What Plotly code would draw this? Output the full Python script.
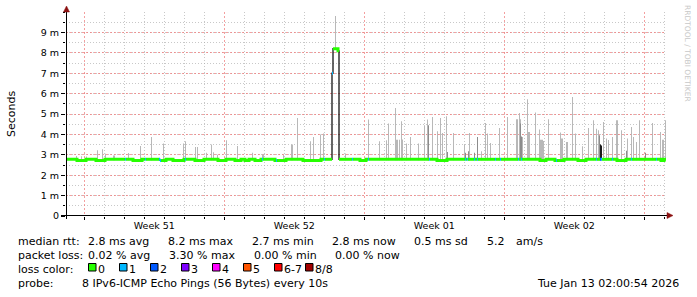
import plotly.graph_objects as go
import pandas as pd

# ---------------- data ----------------
END_TIME = "2026-01-13 02:00:54"
STEP_S = 4320          # seconds per RRD sample (30 days / 600 samples)
N_SAMPLES = 600

# median RTT (ms) as step changes: sample index where a new value starts
median_idx = [0, 11, 20, 30, 39, 67, 76, 94, 100, 107, 118, 129, 138, 152, 160, 169, 175, 179, 183,
              189, 195, 209, 220, 237, 255, 266, 267, 272, 273, 294, 300, 371, 381, 474, 480, 489,
              498, 512, 520, 551, 560, 595, 598]
median_val = [2.78, 2.72, 2.78, 2.72, 2.78, 2.72, 2.78, 2.72, 2.78, 2.72, 2.78, 2.72, 2.78, 2.72, 2.78,
              2.72, 2.78, 2.72, 2.78, 2.72, 2.78, 2.72, 2.78, 2.72, 2.78, 7.0, 8.2, 8.1, 2.78, 2.72,
              2.78, 2.72, 2.78, 2.72, 2.78, 2.72, 2.78, 2.72, 2.78, 2.72, 2.78, 2.72, 2.78]

# samples with packet loss (1 of 8 and 2 of 8 lost)
loss1_idx = [59, 79, 93, 94, 119, 196, 210, 258, 266, 286, 302, 363, 399, 401, 408, 411, 429, 434,
             452, 455, 490, 530, 535, 546, 565, 590]
loss2_idx = [534]

# smoke: max ping per sample (light grey)
smoke_idx = [10, 15, 20, 31, 36, 39, 47, 48, 62, 74, 85, 97, 117, 119, 129, 131, 140, 145, 147, 151,
             160, 171, 186, 196, 197, 217, 225, 226, 231, 244, 247, 254, 257, 269, 279, 302, 313, 320,
             322, 329, 330, 331, 333, 335, 336, 340, 344, 352, 358, 361, 362, 366, 371, 374, 376, 380,
             387, 398, 403, 411, 415, 419, 421, 424, 433, 441, 450, 451, 453, 454, 456, 461, 462, 463,
             469, 473, 474, 475, 476, 477, 482, 494, 495, 496, 500, 501, 506, 509, 516, 522, 527, 530,
             532, 537, 540, 542, 546, 550, 551, 555, 561, 565, 567, 570, 573, 586, 594, 596, 597, 599]
smoke_top = [2.94, 2.93, 2.92, 3.22, 3.27, 3.05, 2.97, 2.97, 3.09, 3.43, 3.87, 3.55, 3.55, 3.66, 3.38,
             3.38, 3.10, 3.50, 3.12, 3.00, 3.71, 3.43, 3.10, 3.02, 3.02, 2.99, 3.50, 3.50, 4.80, 3.66,
             3.87, 4.00, 4.04, 9.80, 3.06, 4.73, 3.66, 3.71, 4.53, 5.29, 3.74, 3.74, 3.74, 4.64, 3.75,
             3.55, 3.87, 3.55, 4.45, 4.73, 3.90, 4.85, 4.15, 4.80, 4.07, 4.89, 4.07, 3.51, 4.07, 3.87,
             3.17, 4.56, 4.04, 3.58, 4.31, 4.85, 4.74, 4.74, 5.05, 4.74, 3.87, 5.72, 4.12, 4.12, 5.07,
             4.24, 3.74, 3.74, 3.74, 3.68, 4.74, 4.09, 3.80, 3.80, 3.63, 3.63, 5.83, 4.04, 3.42, 4.31,
             4.69, 4.28, 4.20, 4.61, 3.80, 3.72, 3.87, 4.69, 4.69, 4.20, 3.80, 4.36, 3.87, 3.63, 4.69,
             4.56, 4.12, 3.74, 3.74, 4.69]
# inner smoke (darker grey)
smoke_dark_idx = [362, 381, 399, 402, 408, 411, 454, 455, 533, 560, 579]
smoke_dark_top = [4.45, 3.14, 3.10, 3.17, 3.10, 3.87, 4.53, 3.90, 3.96, 3.20, 3.10]
# innermost smoke (near black)
smoke_black_idx = [534, 535]
smoke_black_top = [3.50, 3.45]

y_tick_vals = [0, 1, 2, 3, 4, 5, 6, 7, 8, 9]
y_tick_text = ["0", "1 m", "2 m", "3 m", "4 m", "5 m", "6 m", "7 m", "8 m", "9 m"]

stats_rtt = [("median rtt:", 16.7), ("2.8 ms avg", 87.3), ("8.2 ms max", 166.7), ("2.7 ms min", 250.7),
             ("2.8 ms now", 331.0), ("0.5 ms sd", 413.3), ("5.2", 485.7), ("am/s", 515.3)]
stats_loss = [("packet loss:", 16.7), ("0.02 % avg", 87.3), ("3.30 % max", 168.3),
              ("0.00 % min", 253.3), ("0.00 % now", 334.3)]
loss_labels = ["0", "1", "2", "3", "4", "5", "6-7", "8/8"]
loss_colors = ["#26ff00", "#00b8ff", "#0059ff", "#7e00ff", "#ff00ff", "#ff5500", "#ff0000", "#a10000"]
probe_text = "8 IPv6-ICMP Echo Pings (56 Bytes) every 10s"
stamp_text = "Tue Jan 13 02:00:54 2026"

# ---------------- build series ----------------
end = pd.Timestamp(END_TIME)
start = end - pd.Timedelta(seconds=STEP_S * N_SAMPLES)
t = [start + pd.Timedelta(seconds=STEP_S * i) for i in range(N_SAMPLES + 1)]

med = []
for k, s0 in enumerate(median_idx):
    s1 = median_idx[k + 1] if k + 1 < len(median_idx) else N_SAMPLES
    med += [median_val[k]] * (s1 - s0)

lossset = set(loss1_idx) | set(loss2_idx)

FONT = "DejaVu Sans"
fig = go.Figure()

# smoke bars
def smoke_trace(idx, top, color):
    xs = [t[s] + pd.Timedelta(seconds=STEP_S / 2) for s in idx]
    base = [med[s] - 0.05 for s in idx]
    h = [top[i] - base[i] for i in range(len(idx))]
    return go.Bar(x=xs, y=h, base=base, width=STEP_S * 1000, marker=dict(color=color, line=dict(width=0)),
                  hoverinfo="skip", showlegend=False)

fig.add_trace(smoke_trace(smoke_idx, smoke_top, "#b8b8b8"))
fig.add_trace(smoke_trace(smoke_dark_idx, smoke_dark_top, "#8c8c8c"))
fig.add_trace(smoke_trace(smoke_black_idx, smoke_black_top, "#1a1a1a"))

# thin black median
fig.add_trace(go.Scatter(x=t, y=med + [med[-1]], mode="lines", line=dict(color="#000000", width=1.2, shape="hv"),
                         hoverinfo="skip", showlegend=False))

# green median (loss 0), broken at loss samples and large jumps
gx, gy = [], []
run = []
for s in range(N_SAMPLES):
    ok = s not in lossset
    if run and (not ok or abs(med[s] - med[run[-1]]) > 1.0):
        gx += [t[i] for i in run] + [t[run[-1] + 1], None]
        gy += [med[i] for i in run] + [med[run[-1]], None]
        run = []
    if ok:
        run.append(s)
if run:
    gx += [t[i] for i in run] + [t[run[-1] + 1]]
    gy += [med[i] for i in run] + [med[run[-1]]]
fig.add_trace(go.Scatter(x=gx, y=gy, mode="lines", line=dict(color=loss_colors[0], width=3, shape="hv"),
                         hoverinfo="skip", showlegend=False))

def loss_trace(idx, color):
    xs, ys = [], []
    for s in idx:
        xs += [t[s], t[s + 1], None]
        ys += [med[s], med[s], None]
    return go.Scatter(x=xs, y=ys, mode="lines", line=dict(color=color, width=3),
                      hoverinfo="skip", showlegend=False)

fig.add_trace(loss_trace(loss1_idx, loss_colors[1]))
fig.add_trace(loss_trace(loss2_idx, loss_colors[2]))

# ---------------- layout ----------------
W, H = 697, 297
PL, PT, PW, PH = 66, 12, 600, 204

def px(x):
    return (x - PL) / PW

def py(y):
    return (PT + PH - y) / PH

MAJ = "rgba(240,120,120,0.7)"
MIN = "rgba(170,170,170,0.65)"

fig.update_layout(
    width=W, height=H, margin=dict(l=PL, r=W - PL - PW, t=PT, b=H - PT - PH),
    paper_bgcolor="white", plot_bgcolor="white", barmode="overlay",
    font=dict(family=FONT, size=11, color="#000000"),
    showlegend=False,
)
fig.update_xaxes(
    type="date", range=[start, end], tick0="2025-12-15", dtick=7 * 86400000,
    ticklabelmode="period", tickformat="Week %V", ticklabelstandoff=-2,
    tickfont=dict(size=9.5, family=FONT, color="#000000"),
    showgrid=True, gridcolor=MAJ, griddash="2px,2px", gridwidth=1,
    ticks="outside", ticklen=3, tickcolor="#000000",
    showline=False, zeroline=False,
    minor=dict(dtick=86400000, showgrid=True, gridcolor=MIN, griddash="1px,2px",
               ticks="outside", ticklen=2, tickcolor="#000000"),
)
fig.update_yaxes(
    range=[0, 10], tickmode="array", tickvals=y_tick_vals, ticktext=y_tick_text,
    tickfont=dict(size=9.5, family=FONT, color="#000000"),
    showgrid=True, gridcolor=MAJ, griddash="2px,2px", gridwidth=1,
    ticks="outside", ticklen=4, tickcolor="#000000",
    showline=False, zeroline=False,
    minor=dict(dtick=0.5, showgrid=True, gridcolor=MIN, griddash="1px,2px",
               ticks="outside", ticklen=2, tickcolor="#000000"),
)

shapes = []
# axis lines with arrows
shapes.append(dict(type="line", xref="paper", yref="paper", x0=px(61), x1=px(668), y0=py(215.5), y1=py(215.5),
                   line=dict(color="#000000", width=1)))
shapes.append(dict(type="line", xref="paper", yref="paper", x0=px(66.5), x1=px(66.5), y0=py(219), y1=py(10),
                   line=dict(color="#000000", width=1)))
AR = "#8b1010"
shapes.append(dict(type="path", xref="paper", yref="paper",
                   path=f"M {px(66.5)} {py(6)} L {px(63.5)} {py(12)} L {px(69.5)} {py(12)} Z",
                   fillcolor=AR, line=dict(color=AR, width=0.5)))
shapes.append(dict(type="path", xref="paper", yref="paper",
                   path=f"M {px(673)} {py(215.5)} L {px(667)} {py(212.5)} L {px(667)} {py(218.5)} Z",
                   fillcolor=AR, line=dict(color=AR, width=0.5)))

LINE_Y = [241, 255, 269, 283]
ann = []
def text(s, x, y, anchor="left", size=11, color="#000000"):
    ann.append(dict(text=s, x=px(x), y=py(y), xref="paper", yref="paper", showarrow=False,
                    xanchor=anchor, yanchor="middle", borderpad=0,
                    font=dict(family=FONT, size=size, color=color)))

for s, x in stats_rtt:
    text(s, x, LINE_Y[0])
for s, x in stats_loss:
    text(s, x, LINE_Y[1])
text("loss color:", 16.7, LINE_Y[2])
for i, (lab, col) in enumerate(zip(loss_labels, loss_colors)):
    bx = 88.5 + 31 * i
    shapes.append(dict(type="rect", xref="paper", yref="paper", x0=px(bx), x1=px(bx + 7.5),
                       y0=py(271), y1=py(263.5), fillcolor=col, line=dict(color="#000000", width=1)))
    text(lab, bx + 8.5, LINE_Y[2])
text("probe:", 16.7, LINE_Y[3])
text(probe_text, 81, LINE_Y[3])
text(stamp_text, 680, LINE_Y[3], anchor="right")

# axis title and watermark
ann.append(dict(text="Seconds", x=px(11), y=py(114), xref="paper", yref="paper", showarrow=False,
                textangle=-90, xanchor="center", yanchor="middle",
                font=dict(family=FONT, size=11, color="#000000")))
ann.append(dict(text="RRDTOOL / TOBI OETIKER", x=px(687.5), y=py(53.5), xref="paper", yref="paper",
                showarrow=False, textangle=90, xanchor="center", yanchor="middle",
                font=dict(family=FONT, size=7.5, color="#c8c8c8")))

fig.update_layout(shapes=shapes, annotations=ann)
fig.write_html("out.html")
